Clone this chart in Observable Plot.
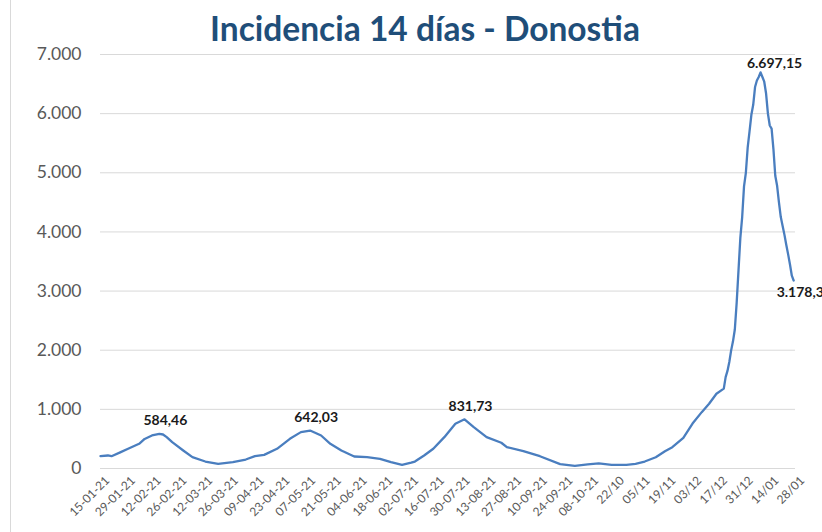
<!DOCTYPE html>
<html>
<head>
<meta charset="utf-8">
<script src="https://cdn.jsdelivr.net/npm/d3@7"></script>
<script src="https://cdn.jsdelivr.net/npm/@observablehq/plot@0.6"></script>
<style>
  html, body { margin: 0; padding: 0; background: #fff; overflow: hidden; }
  #wrap { position: relative; width: 822px; height: 532px; }
  #border { position: absolute; left: 10px; top: 0; width: 0; height: 532px; border-left: 1px solid #d9d9d9; }
  #title { position: absolute; left: 0; top: 12px; width: 822px; padding-left: 28px; box-sizing: border-box;
           text-align: center; font-family: Lato, "Open Sans", sans-serif; font-weight: bold; font-size: 33.5px;
           line-height: 1; color: #1f4e79; }
  #chart { position: absolute; left: 0; top: 38px; }
</style>
</head>
<body>
<div id="wrap">
  <div id="border"></div>
  <div id="title">Incidencia 14 días - Donostia</div>
  <div id="chart"></div>
</div>
<script>
// ---- data ----
const dates = [
  "2021-01-15","2021-01-19","2021-01-21","2021-01-26","2021-01-30","2021-02-05","2021-02-08","2021-02-12",
  "2021-02-16","2021-02-18","2021-02-20","2021-02-23","2021-03-01","2021-03-06","2021-03-13","2021-03-20",
  "2021-03-28","2021-04-04","2021-04-09","2021-04-14","2021-04-21","2021-04-28","2021-05-04","2021-05-09",
  "2021-05-15","2021-05-20","2021-05-26","2021-06-02","2021-06-09","2021-06-16","2021-06-22","2021-06-28",
  "2021-07-03","2021-07-05","2021-07-10","2021-07-15","2021-07-21","2021-07-27","2021-08-01","2021-08-06",
  "2021-08-13","2021-08-21","2021-08-24","2021-09-02","2021-09-11","2021-09-22","2021-09-30","2021-10-07",
  "2021-10-13","2021-10-20","2021-10-28","2021-11-02","2021-11-07","2021-11-13","2021-11-18","2021-11-22",
  "2021-11-28","2021-12-03","2021-12-08","2021-12-12","2021-12-16","2021-12-20","2021-12-21","2021-12-22",
  "2021-12-23","2021-12-24","2021-12-25","2021-12-26","2021-12-27","2021-12-28","2021-12-29","2021-12-30",
  "2021-12-31","2022-01-01","2022-01-02","2022-01-03","2022-01-04","2022-01-05","2022-01-06","2022-01-07",
  "2022-01-08","2022-01-09","2022-01-10","2022-01-11","2022-01-12","2022-01-13","2022-01-14","2022-01-15",
  "2022-01-16","2022-01-17","2022-01-18","2022-01-19","2022-01-20","2022-01-21","2022-01-22","2022-01-23",
  "2022-01-24","2022-01-25","2022-01-26","2022-01-27"
];
const incidencia = [
  208, 220, 208, 276, 333, 418, 500, 558,
  584.46, 575, 530, 445, 305, 192, 118, 79,
  107, 152, 208, 231, 333, 502, 615, 642.03,
  558, 418, 305, 203, 191, 164, 107, 63,
  100, 118, 220, 333, 530, 756, 831.73, 699,
  530, 435, 361, 293, 208, 75, 45, 68,
  85, 60, 62, 79, 118, 191, 293, 361,
  519, 760, 953, 1095, 1264, 1350, 1545, 1650,
  1800, 1997, 2150, 2350, 2800, 3350, 3900, 4252,
  4770, 5000, 5430, 5700, 5980, 6150, 6450, 6560,
  6620, 6697.15, 6620, 6540, 6340, 6000, 5800, 5748,
  5400, 4950, 4780, 4500, 4252, 4100, 3950, 3780,
  3620, 3450, 3260, 3178.36
];
const tickDates = [
  "2021-01-15","2021-01-29","2021-02-12","2021-02-26","2021-03-12","2021-03-26","2021-04-09","2021-04-23",
  "2021-05-07","2021-05-21","2021-06-04","2021-06-18","2021-07-02","2021-07-16","2021-07-30","2021-08-13",
  "2021-08-27","2021-09-10","2021-09-24","2021-10-08","2021-10-22","2021-11-05","2021-11-19","2021-12-03",
  "2021-12-17","2021-12-31","2022-01-14","2022-01-28"
];
const tickLabels = [
  "15-01-21","29-01-21","12-02-21","26-02-21","12-03-21","26-03-21","09-04-21","23-04-21",
  "07-05-21","21-05-21","04-06-21","18-06-21","02-07-21","16-07-21","30-07-21","13-08-21",
  "27-08-21","10-09-21","24-09-21","08-10-21","22/10","05/11","19/11","03/12",
  "17/12","31/12","14/01","28/01"
];
const yTicks = [0, 1000, 2000, 3000, 4000, 5000, 6000, 7000];
const yTickLabels = ["0", "1.000", "2.000", "3.000", "4.000", "5.000", "6.000", "7.000"];
const peakDates = ["2021-02-16", "2021-05-09", "2021-08-01"];
const peakLabels = ["584,46", "642,03", "831,73"];
const maxDate = "2022-01-09", maxLabel = "6.697,15";
const lastDate = "2022-01-27", lastLabel = "3.178,3";

// ---- build ----
const parse = d3.utcParse("%Y-%m-%d");
const series = dates.map((d, i) => ({date: parse(d), value: incidencia[i]}));
const valueAt = d => series.find(s => +s.date === +parse(d)).value;
const peaks = peakDates.map((d, i) => ({date: parse(d), value: valueAt(d), label: peakLabels[i]}));
const maxPt = [{date: parse(maxDate), value: valueAt(maxDate), label: maxLabel}];
const lastPt = [{date: parse(lastDate), value: valueAt(lastDate), label: lastLabel}];
const ticks = tickDates.map(parse);
const tickMap = new Map(ticks.map((t, i) => [+t, tickLabels[i]]));
const yMap = new Map(yTicks.map((t, i) => [t, yTickLabels[i]]));

const chart = Plot.plot({
  width: 822,
  height: 494,
  marginLeft: 100,
  marginRight: 27,
  marginTop: 16,
  marginBottom: 64,
  style: {fontFamily: "Lato, 'Open Sans', sans-serif", background: "transparent"},
  x: {type: "utc", domain: [parse("2021-01-15"), parse("2022-01-28")]},
  y: {domain: [0, 7000]},
  marks: [
    Plot.gridY(yTicks, {stroke: "#d9d9d9", strokeOpacity: 1, strokeWidth: 1}),
    Plot.axisY({ticks: yTicks, tickFormat: d => yMap.get(d), tickSize: 0, tickPadding: 19,
                fontSize: 17.5, fill: "#595959", label: null}),
    Plot.axisX({ticks: ticks, tickFormat: d => tickMap.get(+d), tickSize: 0, tickPadding: 10, dx: 7,
                tickRotate: -45, fontSize: 12, fill: "#595959", label: null}),
    Plot.lineY(series, {x: "date", y: "value", stroke: "#4a7ebf", strokeWidth: 2.3,
                        strokeLinejoin: "round", strokeLinecap: "round"}),
    Plot.text(peaks, {x: "date", y: "value", text: "label", dx: 6, dy: -13,
                      fontSize: 14, fontWeight: "bold", fill: "#1a1a1a"}),
    Plot.text(maxPt, {x: "date", y: "value", text: "label", dx: 14, dy: -9,
                      fontSize: 14, fontWeight: "bold", fill: "#1a1a1a"}),
    Plot.text(lastPt, {x: "date", y: "value", text: "label", dx: -17, dy: 12, textAnchor: "start",
                       fontSize: 14, fontWeight: "bold", fill: "#1a1a1a"})
  ]
});
document.getElementById("chart").appendChild(chart);
</script>
</body>
</html>
